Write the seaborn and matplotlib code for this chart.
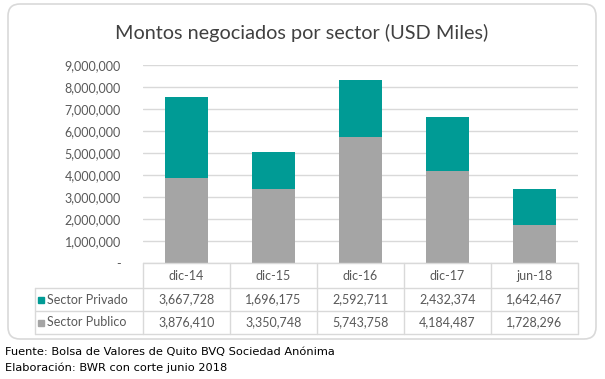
import matplotlib
matplotlib.use('Agg')
import matplotlib.pyplot as plt
import matplotlib.transforms as mtransforms
from matplotlib.patches import FancyBboxPatch
from matplotlib.lines import Line2D
import seaborn as sns
import pandas as pd

# datos
periodos = ['dic-14', 'dic-15', 'dic-16', 'dic-17', 'jun-18']
sector_privado = [3667728, 1696175, 2592711, 2432374, 1642467]
sector_publico = [3876410, 3350748, 5743758, 4184487, 1728296]
series = ['Sector Privado', 'Sector Publico']
titulo = 'Montos negociados por sector (USD Miles)'
fuente = 'Fuente: Bolsa de Valores de Quito BVQ Sociedad Anónima'
elaboracion = 'Elaboración: BWR con corte junio 2018'

TEAL = '#009B95'
GREY = '#A5A5A5'
TXT = '#595959'
LINE = '#D9D9D9'

sns.set_style('white')
plt.rcParams['font.family'] = ['Lato', 'DejaVu Sans']

W, H = 605, 379
fig = plt.figure(figsize=(W / 100, H / 100), dpi=100)


def fx(px):
    return px / W


def fy(py):
    return 1 - py / H


# marco redondeado
frame = FancyBboxPatch((8, H - 339), 588, 335, boxstyle='round,pad=0,rounding_size=12',
                       transform=mtransforms.IdentityTransform(),
                       fc='white', ec=LINE, lw=1.2, zorder=-5)
fig.patches.append(frame)

fig.text(fx(302), fy(33), titulo, ha='center', va='center', size=14.3, color='#404040')

ax = fig.add_axes([fx(143), fy(263), fx(578) - fx(143), (263 - 65) / H])
ax.set_facecolor('none')

df = pd.DataFrame({'periodo': periodos,
                   'total': [a + b for a, b in zip(sector_privado, sector_publico)],
                   'publico': sector_publico})
sns.barplot(data=df, x='periodo', y='total', color=TEAL, saturation=1, width=0.5,
            linewidth=0, ax=ax)
sns.barplot(data=df, x='periodo', y='publico', color=GREY, saturation=1, width=0.5,
            linewidth=0, ax=ax)

ax.set_xlim(-0.5, len(periodos) - 0.5)
ax.set_ylim(0, 9_000_000)
yt = list(range(0, 9_000_001, 1_000_000))
ax.set_yticks(yt)
ax.set_yticklabels(['-' if v == 0 else f'{v:,}' for v in yt], color=TXT, size=9)
ax.tick_params(axis='y', length=0, pad=16)
ax.tick_params(axis='x', bottom=False, labelbottom=False)
ax.set_xlabel('')
ax.set_ylabel('')
ax.grid(axis='y', color=LINE, lw=1)
ax.set_axisbelow(True)
for s in ax.spines.values():
    s.set_visible(False)

# tabla de datos
trans = mtransforms.blended_transform_factory(ax.transData, fig.transFigure)
n = len(periodos)
x_lab = -0.5 - 108 / 87
rows_y = [263, 288, 311, 334]


def hline(x0, x1, py):
    fig.add_artist(Line2D([x0, x1], [fy(py), fy(py)], transform=trans, color=LINE, lw=1))


def vline(x, py0, py1):
    fig.add_artist(Line2D([x, x], [fy(py0), fy(py1)], transform=trans, color=LINE, lw=1))


hline(-0.5, n - 0.5, rows_y[0])
for py in rows_y[1:]:
    hline(x_lab, n - 0.5, py)
for i in range(n + 1):
    vline(i - 0.5, rows_y[0], rows_y[-1])
vline(x_lab, rows_y[1], rows_y[-1])

for i, p in enumerate(periodos):
    ax.text(i, fy((rows_y[0] + rows_y[1]) / 2), p, transform=trans,
            ha='center', va='center', color=TXT, size=9)

for r, (name, vals, col) in enumerate(zip(series, [sector_privado, sector_publico], [TEAL, GREY])):
    yc = fy((rows_y[r + 1] + rows_y[r + 2]) / 2)
    for i, v in enumerate(vals):
        ax.text(i, yc, f'{v:,}', transform=trans, ha='center', va='center', color=TXT, size=9)
    ax.plot([-0.5 - 102 / 87], [yc], marker='s', ms=5, color=col, transform=trans, clip_on=False)
    ax.text(-0.5 - 96 / 87, yc, name, transform=trans, ha='left', va='center', color=TXT, size=9)

fig.text(fx(5), fy(352), fuente, ha='left', va='center', family='DejaVu Sans', size=8.2, color='black')
fig.text(fx(5), fy(368), elaboracion, ha='left', va='center', family='DejaVu Sans', size=8.2, color='black')

fig.savefig('out.png', dpi=100)
